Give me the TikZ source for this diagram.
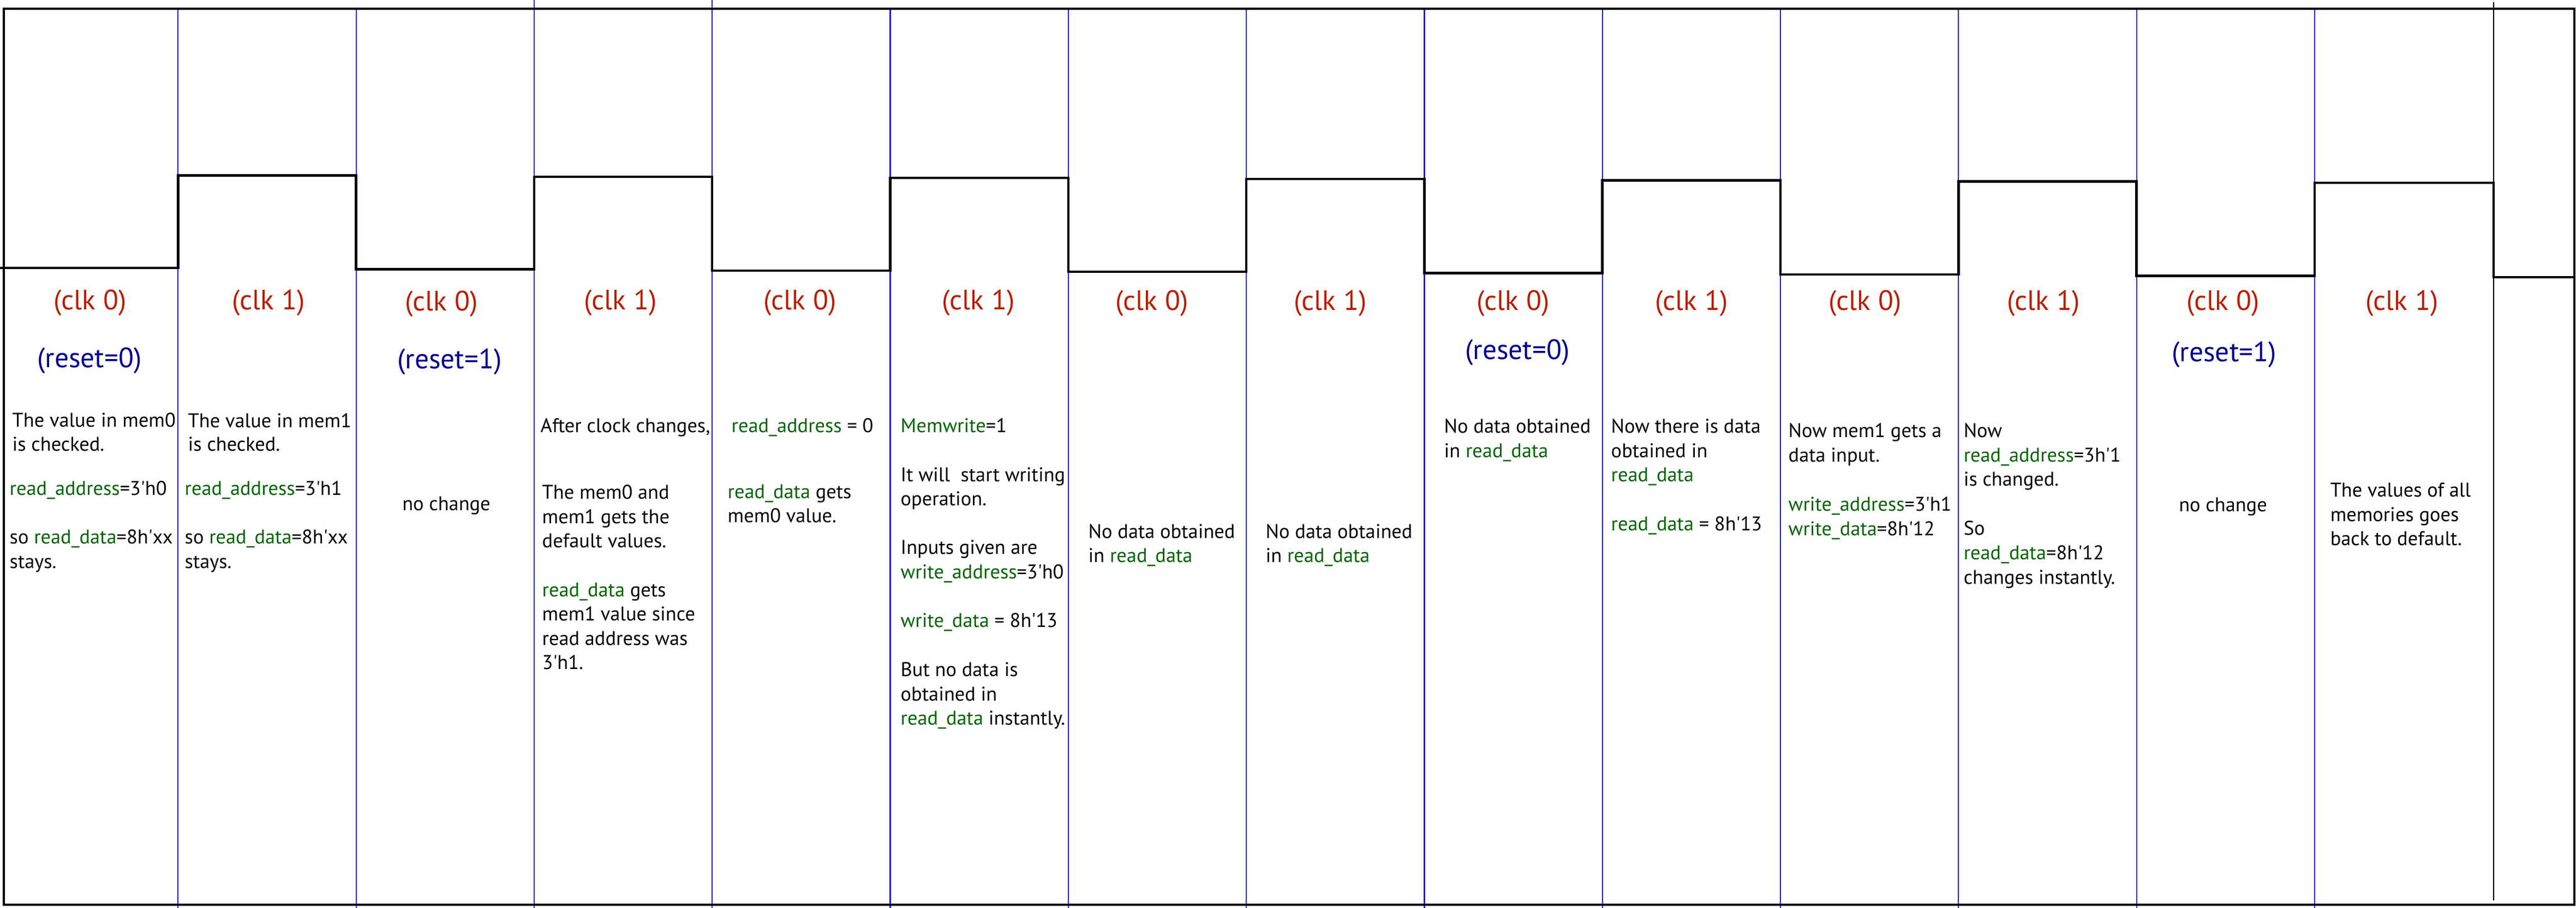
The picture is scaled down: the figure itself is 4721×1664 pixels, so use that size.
\documentclass[tikz,border=0pt]{standalone}
\usepackage{fontspec}
\setmainfont{PT Sans}
\definecolor{clkred}{RGB}{185,30,0}
\definecolor{rstblue}{RGB}{0,0,145}
\definecolor{sigg}{RGB}{0,100,0}
\definecolor{divblue}{RGB}{30,30,230}
\newcommand\gr[1]{\textcolor{sigg}{#1}}
\newcommand\q{\textquotesingle}
\newcommand\bodyfont{\fontsize{10.35}{12.6}\selectfont}
\newcommand\headfont{\fontsize{14.6}{17}\selectfont}
\tikzset{
  body/.style={anchor=base west, inner sep=0pt, font=\bodyfont},
  bodyc/.style={anchor=base, inner sep=0pt, font=\bodyfont},
  clklab/.style={inner sep=0pt, font=\headfont, text=clkred},
  rstlab/.style={inner sep=0pt, font=\headfont, text=rstblue},
  frame/.style={line width=0.04cm, black},
  wave/.style={line width=0.045cm, black, line join=miter},
  divider/.style={line width=0.022cm, divblue},
  enddiv/.style={line width=0.025cm, black}
}
\newcommand\bl[4]{\node[body] (#1) at (#2,#3) {#4};}
\begin{document}
\begin{tikzpicture}[x=0.01cm, y=-0.01cm]
\useasboundingbox (0,0) rectangle (4721,1664);
% column dividers
\foreach \i in {1,2,5,6,7,8,9,10,11,12,13} {
  \draw[divider] (326.3*\i,16) -- (326.3*\i,1664);
}
\foreach \i in {3,4} {
  \draw[divider] (326.3*\i,0) -- (326.3*\i,1664);
}
\coordinate (endtop) at (4570,4);
\coordinate (endbot) at (4570,1650);
\draw[enddiv] (endtop) -- (endbot);
% frame
\draw[frame] (7,16) rectangle (4718,1658);
% clock waveform
\draw[wave] (0,491)
  -- (326.3,491.0) -- (326.3,321.6)
  -- (652.6,321.6) -- (652.6,493.4)
  -- (978.9,493.4) -- (978.9,323.8)
  -- (1305.2,323.8) -- (1305.2,495.8)
  -- (1631.5,495.8) -- (1631.5,326.0)
  -- (1957.8,326.0) -- (1957.8,498.2)
  -- (2284.1,498.2) -- (2284.1,328.2)
  -- (2610.4,328.2) -- (2610.4,500.6)
  -- (2936.7,500.6) -- (2936.7,330.4)
  -- (3263.0,330.4) -- (3263.0,503.0)
  -- (3589.3,503.0) -- (3589.3,332.6)
  -- (3915.6,332.6) -- (3915.6,505.4)
  -- (4241.9,505.4) -- (4241.9,334.8)
  -- (4570,334.8) -- (4570,507.8)
  -- (4718,507.8);
% column 1
\node[clklab] (k1) at (165,555) {(clk 0)};
\node[rstlab] (r1) at (164,661) {(reset=0)};
\bl{a1}{22}{782}{The value in mem0}
\bl{a2}{22}{826}{is checked.}
\bl{a3}{17}{907}{\gr{read\_address}=3\q h0}
\bl{a4}{17}{996}{so \gr{read\_data}=8h\q xx}
\bl{a5}{17}{1041}{stays.}
% column 2
\node[clklab] (k2) at (492,555) {(clk 1)};
\bl{b1}{344}{783}{The value in mem1}
\bl{b2}{344}{826}{is checked.}
\bl{b3}{338}{907}{\gr{read\_address}=3\q h1}
\bl{b4}{338}{996}{so \gr{read\_data}=8h\q xx}
\bl{b5}{338}{1041}{stays.}
% column 3
\node[clklab] (k3) at (809,557) {(clk 0)};
\node[rstlab] (r3) at (824,663) {(reset=1)};
\node[bodyc] (c1) at (818,935) {no change};
% column 4
\node[clklab] (k4) at (1137,555) {(clk 1)};
\bl{d1}{990}{792}{After clock changes,}
\bl{d2}{993}{914}{The mem0 and}
\bl{d3}{993}{959}{mem1 gets the}
\bl{d4}{993}{1003}{default values.}
\bl{d5}{993}{1093}{\gr{read\_data} gets}
\bl{d6}{993}{1137}{mem1 value since}
\bl{d7}{993}{1182}{read address was}
\bl{d8}{993}{1226}{3\q h1.}
% column 5
\node[clklab] (k5) at (1466,555) {(clk 0)};
\bl{e1}{1340}{792}{\gr{read\_address} = 0}
\bl{e2}{1333}{913}{\gr{read\_data} gets}
\bl{e3}{1333}{957}{mem0 value.}
% column 6
\node[clklab] (k6) at (1793,555) {(clk 1)};
\bl{f1}{1650}{792}{\gr{Memwrite}=1}
\bl{f2}{1650}{882}{It will\ \ start writing}
\bl{f3}{1650}{926}{operation.}
\bl{f4}{1650}{1015}{Inputs given are}
\bl{f5}{1650}{1060}{\gr{write\_address}=3\q h0}
\bl{f6}{1650}{1149}{\gr{write\_data} = 8h\q 13}
\bl{f7}{1650}{1239}{But no data is}
\bl{f8}{1650}{1284}{obtained in}
\bl{f9}{1650}{1328}{\gr{read\_data} instantly.}
% column 7
\node[clklab] (k7) at (2111,556) {(clk 0)};
\bl{g1}{1994}{986}{No data obtained}
\bl{g2}{1994}{1030}{in \gr{read\_data}}
% column 8
\node[clklab] (k8) at (2438,556) {(clk 1)};
\bl{h1}{2319}{986}{No data obtained}
\bl{h2}{2319}{1030}{in \gr{read\_data}}
% column 9
\node[clklab] (k9) at (2773,556) {(clk 0)};
\node[rstlab] (r9) at (2781,646) {(reset=0)};
\bl{i1}{2646}{793}{No data obtained}
\bl{i2}{2646}{838}{in \gr{read\_data}}
% column 10
\node[clklab] (k10) at (3100,556) {(clk 1)};
\bl{j1}{2952}{793}{Now there is data}
\bl{j2}{2952}{838}{obtained in}
\bl{j3}{2952}{882}{\gr{read\_data}}
\bl{j4}{2952}{972}{\gr{read\_data} = 8h\q 13}
% column 11
\node[clklab] (k11) at (3418,556) {(clk 0)};
\bl{m1}{3277}{801}{Now mem1 gets a}
\bl{m2}{3277}{846}{data input.}
\bl{m3}{3277}{936}{\gr{write\_address}=3\q h1}
\bl{m4}{3277}{981}{\gr{write\_data}=8h\q 12}
% column 12
\node[clklab] (k12) at (3745,556) {(clk 1)};
\bl{n1}{3598}{801}{Now}
\bl{n2}{3598}{846}{\gr{read\_address}=3h\q 1}
\bl{n3}{3598}{890}{is changed.}
\bl{n4}{3598}{980}{So}
\bl{n5}{3598}{1025}{\gr{read\_data}=8h\q 12}
\bl{n6}{3598}{1070}{changes instantly.}
% column 13
\node[clklab] (k13) at (4074,556) {(clk 0)};
\node[rstlab] (r13) at (4076,650) {(reset=1)};
\node[bodyc] (o1) at (4074,937) {no change};
% column 14
\node[clklab] (k14) at (4402,556) {(clk 1)};
\bl{p1}{4270}{910}{The values of all}
\bl{p2}{4270}{955}{memories goes}
\bl{p3}{4270}{999}{back to default.}
\end{tikzpicture}
\end{document}
